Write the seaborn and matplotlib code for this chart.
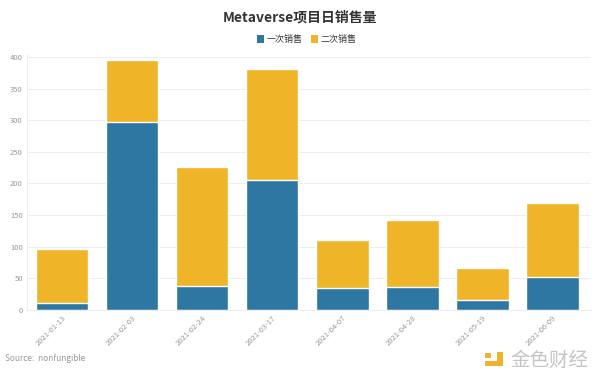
import matplotlib
matplotlib.use("Agg")
import matplotlib.pyplot as plt
import seaborn as sns
import pandas as pd
from matplotlib.patches import Rectangle

dates = ["2021-01-13", "2021-02-03", "2021-02-24", "2021-03-17",
         "2021-04-07", "2021-04-28", "2021-05-19", "2021-06-09"]
first_sales = [11, 298, 38, 205, 35, 36, 15, 52]
second_sales = [86, 97, 188, 176, 76, 107, 51, 117]
yticks = [0, 50, 100, 150, 200, 250, 300, 350, 400]

BLUE = "#2e77a3"
YELLOW = "#f0b429"

sns.set_style("white")
plt.rcParams['font.family'] = ['Noto Sans CJK SC', 'DejaVu Sans']

df = pd.DataFrame({"date": dates, "first": first_sales, "second": second_sales})
df["total"] = df["first"] + df["second"]

fig = plt.figure(figsize=(6, 3.85), dpi=100)
ax = fig.add_axes([0.045, 0.195, 0.94, 0.665])

sns.barplot(data=df, x="date", y="total", color=YELLOW, saturation=1,
            width=0.75, edgecolor="white", linewidth=1, ax=ax)
sns.barplot(data=df, x="date", y="first", color=BLUE, saturation=1,
            width=0.75, edgecolor="white", linewidth=1, ax=ax)

ax.set_ylim(0, 405)
ax.set_yticks(yticks)
ax.set_yticklabels([str(v) for v in yticks], fontsize=5.5, color="#999999")
ax.set_xlim(-0.5, 7.55)
ax.set_xticks(range(len(dates)))
ax.set_xticklabels(dates, rotation=45, ha="right", rotation_mode="anchor",
                   fontsize=5.5, color="#999999")
ax.set_xlabel("")
ax.set_ylabel("")
ax.grid(axis="y", color="#eeeeee", linewidth=0.8)
ax.set_axisbelow(True)
for s in ["top", "right"]:
    ax.spines[s].set_visible(False)
ax.spines["left"].set_color("#eeeeee")
ax.spines["bottom"].set_color("#eeeeee")
ax.tick_params(axis="both", length=0, pad=3)

fig.text(0.5, 0.955, "Metaverse项目日销售量", ha="center", va="center",
         fontsize=10, fontweight="bold", color="#333333")

# legend
lx = 0.428
fig.patches.append(Rectangle((lx, 0.888), 0.012, 0.02, transform=fig.transFigure,
                             facecolor=BLUE, edgecolor="none"))
fig.text(lx + 0.016, 0.898, "一次销售", ha="left", va="center", fontsize=6.5, color="#333333")
fig.patches.append(Rectangle((lx + 0.09, 0.888), 0.012, 0.02, transform=fig.transFigure,
                             facecolor=YELLOW, edgecolor="none"))
fig.text(lx + 0.106, 0.898, "二次销售", ha="left", va="center", fontsize=6.5, color="#333333")

fig.text(0.008, 0.068, "Source:  nonfungible", ha="left", va="center",
         fontsize=6, color="#999999")

# watermark logo (pixel coords converted to figure fraction)
W, H = 600.0, 385.0
def px_rect(x0, y0, x1, y1, col):
    fig.patches.append(Rectangle((x0 / W, 1 - y1 / H), (x1 - x0) / W, (y1 - y0) / H,
                                 transform=fig.transFigure, facecolor=col, edgecolor="none"))
px_rect(497, 352, 503, 366, YELLOW)
px_rect(485, 361, 503, 366, YELLOW)
px_rect(485, 353, 491, 358, YELLOW)
fig.text(510 / W, 1 - 360 / H, "金色财经", ha="left", va="center", fontsize=14,
         color="#c4c4c4")

fig.savefig("out.png", dpi=100, facecolor="white")
